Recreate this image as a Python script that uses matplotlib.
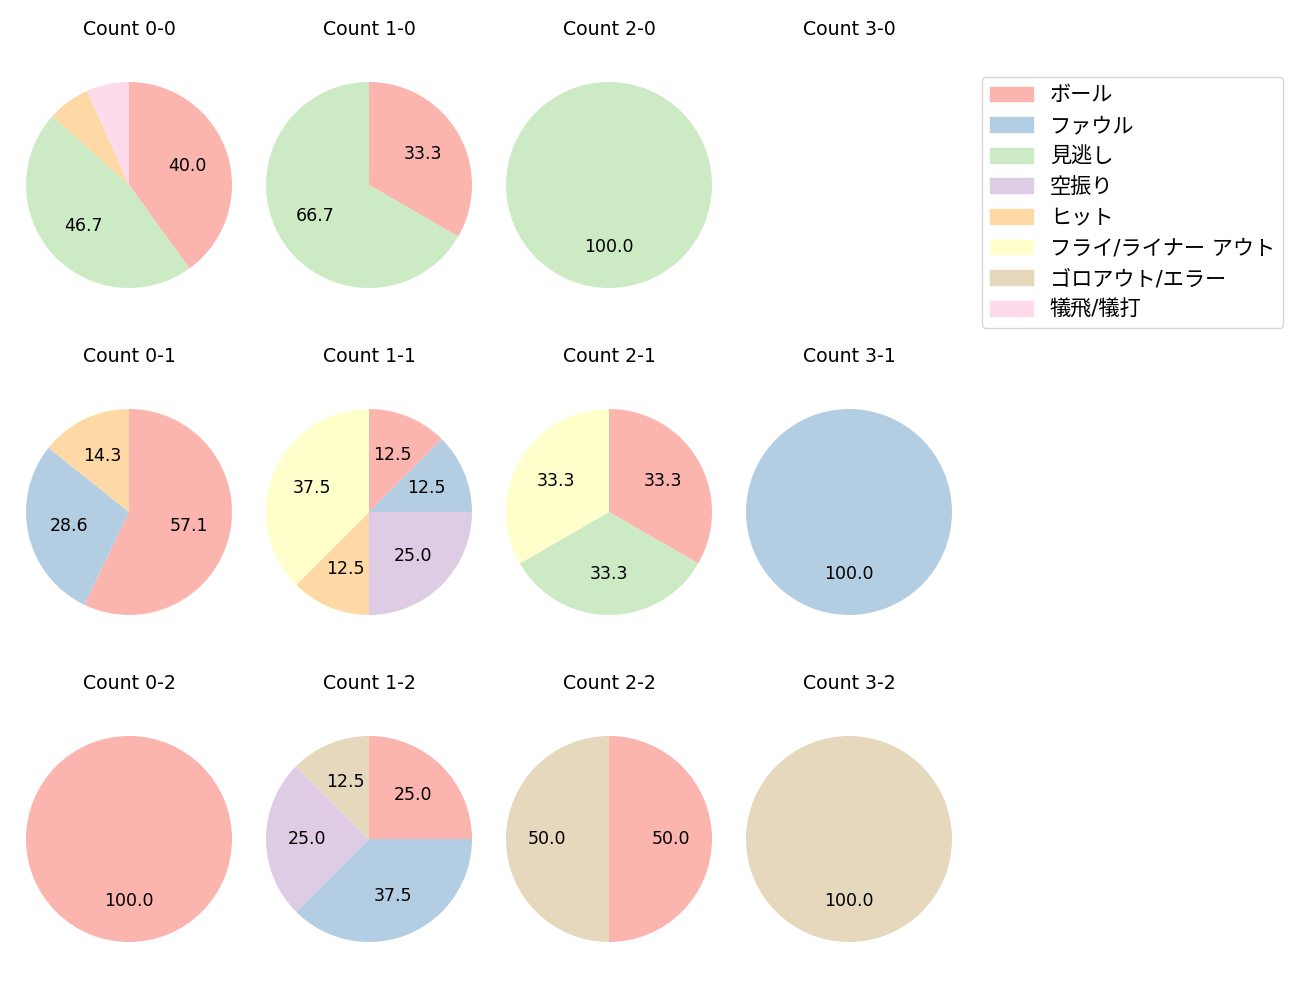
import matplotlib
matplotlib.use("Agg")
import matplotlib.pyplot as plt
import numpy as np

plt.rcParams['font.family'] = ['DejaVu Sans', 'Noto Sans CJK JP']

categories = ['ボール', 'ファウル', '見逃し', '空振り', 'ヒット',
              'フライ/ライナー アウト', 'ゴロアウト/エラー', '犠飛/犠打']

count_labels = [['0-0', '1-0', '2-0', '3-0'],
                ['0-1', '1-1', '2-1', '3-1'],
                ['0-2', '1-2', '2-2', '3-2']]

c_0_0 = [6, 0, 7, 0, 1, 0, 0, 1]
c_1_0 = [1, 0, 2, 0, 0, 0, 0, 0]
c_2_0 = [0, 0, 1, 0, 0, 0, 0, 0]
c_3_0 = [0, 0, 0, 0, 0, 0, 0, 0]
c_0_1 = [4, 2, 0, 0, 1, 0, 0, 0]
c_1_1 = [1, 1, 0, 2, 1, 3, 0, 0]
c_2_1 = [1, 0, 1, 0, 0, 1, 0, 0]
c_3_1 = [0, 1, 0, 0, 0, 0, 0, 0]
c_0_2 = [1, 0, 0, 0, 0, 0, 0, 0]
c_1_2 = [2, 3, 0, 2, 0, 0, 1, 0]
c_2_2 = [1, 0, 0, 0, 0, 0, 1, 0]
c_3_2 = [0, 0, 0, 0, 0, 0, 1, 0]

values = [[c_0_0, c_1_0, c_2_0, c_3_0],
          [c_0_1, c_1_1, c_2_1, c_3_1],
          [c_0_2, c_1_2, c_2_2, c_3_2]]

colors = [plt.cm.Pastel1(i) for i in range(len(categories))]

W, H = 1300, 1000
fig = plt.figure(figsize=(13, 10), dpi=100)

S = 257.5
for r in range(3):
    for c in range(4):
        cx = 129 + 240 * c
        cy = 185 + 327 * r
        ax = fig.add_axes([(cx - S / 2) / W, 1 - (cy + S / 2) / H, S / W, S / H])
        vals = values[r][c]
        ax.set_title('Count ' + count_labels[r][c], fontsize=13.6, pad=15.5)
        if sum(vals) == 0:
            ax.axis('off')
            continue
        ax.pie(vals, colors=colors, startangle=90, counterclock=False,
               autopct=lambda p: f'{p:.1f}' if p >= 10 else '',
               textprops={'fontsize': 12.5})
        ax.set_aspect('equal')

handles = [matplotlib.patches.Patch(color=col) for col in colors]
fig.legend(handles, categories, loc='upper left', bbox_to_anchor=(982 / W, 1 - 77 / H),
           fontsize=15.25, borderaxespad=0)

fig.savefig('out.png', dpi=100)
